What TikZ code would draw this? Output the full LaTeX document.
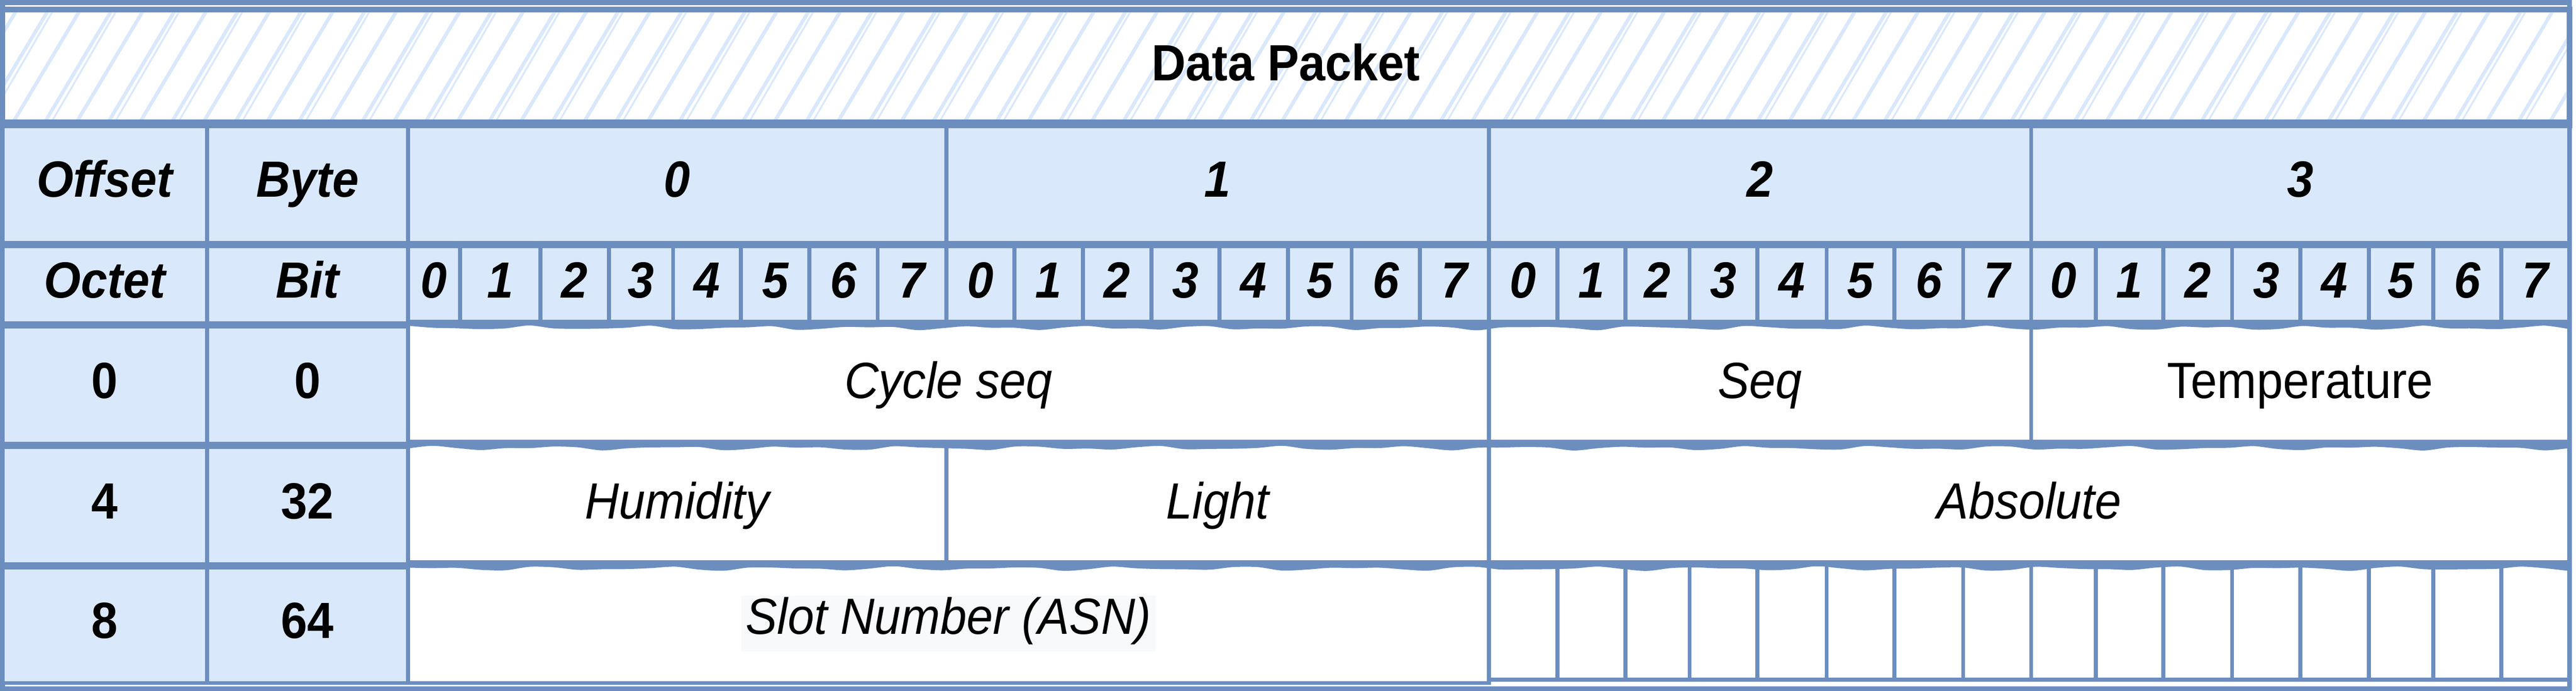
\documentclass[tikz,border=0pt]{standalone}
\usepackage{fontspec}
\setmainfont{Liberation Sans}[FakeStretch=0.93]
\definecolor{pkstroke}{HTML}{6C8EBF}
\definecolor{pkfill}{HTML}{DAE8FC}
\definecolor{pkhl}{HTML}{F8F9FA}
\newcommand\pkcell[7]{%
  \pgfmathsetmacro\pkcx{(#2+#4)/2}%
  \pgfmathsetmacro\pkcy{(#3+#5)/2}%
  \pgfmathsetmacro\pkcw{(#4-#2)/2}%
  \pgfmathsetmacro\pkch{(#5-#3)/2}%
  \node[#6, minimum width=\pkcw pt, minimum height=\pkch pt] (#1) at (\pkcx,\pkcy) {#7};}
\tikzset{
  pkbase/.style={rectangle, draw=pkstroke, line width=1.2pt, inner sep=0pt,
    text height=11pt, text depth=2.2pt, font=\fontsize{15.5}{18}\selectfont},
  pkhdr/.style={pkbase, fill=pkfill, font=\fontsize{15.5}{18}\selectfont\bfseries\itshape},
  pklab/.style={pkbase, fill=pkfill, font=\fontsize{15.5}{18}\selectfont\bfseries},
  pkdat/.style={pkbase, fill=white, font=\fontsize{15.5}{18}\selectfont\itshape},
  pkdatup/.style={pkbase, fill=white},
  pkempty/.style={pkbase, fill=white},
  pktitle/.style={pkbase, line width=1.7pt, font=\fontsize{15.5}{18}\selectfont\bfseries},
  pkhltext/.style={fill=pkhl, inner xsep=1.3pt, inner ysep=0pt, text height=11.6pt, text depth=5.4pt,
    font=\fontsize{15.5}{18}\selectfont\itshape},
  pkhatch/.style={draw=pkfill, line width=1.1pt},
  pkhatchthin/.style={draw=pkfill, line width=0.55pt},
  pkband/.style={draw=pkstroke, line width=1.9pt},
  pkline/.style={draw=pkstroke, line width=1.6pt},
  pkwave/.style={draw=pkstroke, line width=1.5pt, line join=round},
  pkframe/.style={draw=pkstroke, line width=1.5pt}
}
\begin{document}
\begin{tikzpicture}[x=0.5pt, y=-0.5pt]
\useasboundingbox (0,0) rectangle (1568,420.75);
\fill[white] (0,0) rectangle (1568,420.75);
% outer frame
\draw[pkframe] (1.5,1.5) rectangle (1564,419.4);
% title hatch
\begin{scope}
  \clip (1.5,5.9) rectangle (1564,74.6);
  \foreach \hx in {-50,-30.7,...,1600} {
    \draw[pkhatch] (\hx,74.6) -- ++(41,-68.7);
  }
  \foreach \hx in {-46,-7.4,...,1600} {
    \draw[pkhatchthin] (\hx,74.6) -- ++(40,-68.7);
  }
\end{scope}
\pkcell{title}{1.5}{5.9}{1564}{74.6}{pktitle}{Data Packet}
% header row
\pkcell{offset}{1.5}{74.6}{126}{148}{pkhdr}{Offset}
\pkcell{byte}{126}{74.6}{248.3}{148}{pkhdr}{Byte}
\pkcell{byte0}{248.3}{74.6}{576}{148}{pkhdr}{0}
\pkcell{byte1}{576}{74.6}{906.3}{148}{pkhdr}{1}
\pkcell{byte2}{906.3}{74.6}{1236.3}{148}{pkhdr}{2}
\pkcell{byte3}{1236.3}{74.6}{1564}{148}{pkhdr}{3}
% bit row
\pkcell{octet}{1.5}{148}{126}{197}{pkhdr}{Octet}
\pkcell{bit}{126}{148}{248.3}{197}{pkhdr}{Bit}
\foreach \xa/\xb/\bt [count=\i] in {
  248.3/280/0, 280/329/1, 329/370.6/2, 370.6/409.7/3, 409.7/451/4, 451/492.7/5, 492.7/534.2/6, 534.2/576/7,
  576/617.4/0, 617.4/659.2/1, 659.2/700.8/2, 700.8/742.2/3, 742.2/784/4, 784/822.7/5, 822.7/864.2/6, 864.2/906.3/7,
  906.3/947.9/0, 947.9/989.3/1, 989.3/1028.4/2, 1028.4/1069.7/3, 1069.7/1111.8/4, 1111.8/1153/5, 1153/1195/6, 1195/1236.3/7,
  1236.3/1275.7/0, 1275.7/1316.8/1, 1316.8/1358.6/2, 1358.6/1400.2/3, 1400.2/1441.9/4, 1441.9/1481.1/5, 1481.1/1522.5/6, 1522.5/1564/7} {
  \pkcell{bitcell\i}{\xa}{148}{\xb}{197}{pkhdr}{\bt}
}
% row labels
\pkcell{oct0}{1.5}{197}{126}{270.3}{pklab}{0}
\pkcell{bit0}{126}{197}{248.3}{270.3}{pklab}{0}
\pkcell{oct4}{1.5}{270.3}{126}{343.7}{pklab}{4}
\pkcell{bit32}{126}{270.3}{248.3}{343.7}{pklab}{32}
\pkcell{oct8}{1.5}{343.7}{126}{416}{pklab}{8}
\pkcell{bit64}{126}{343.7}{248.3}{416}{pklab}{64}
% data fields
\pkcell{cycleseq}{248.3}{197}{906.3}{270.3}{pkdat}{Cycle seq}
\pkcell{seq}{906.3}{197}{1236.3}{270.3}{pkdat}{Seq}
\pkcell{temperature}{1236.3}{197}{1564}{270.3}{pkdatup}{Temperature}
\pkcell{humidity}{248.3}{270.3}{576}{343.7}{pkdat}{Humidity}
\pkcell{light}{576}{270.3}{906.3}{343.7}{pkdat}{Light}
\pkcell{absolute}{906.3}{270.3}{1564}{343.7}{pkdat}{Absolute}
\pkcell{asn}{248.3}{343.7}{906.3}{416}{pkdat}{}
\node[pkhltext] (asntext) at (asn.center) {Slot Number (ASN)};
\foreach \xa/\xb [count=\i] in {
  906.3/947.9, 947.9/989.3, 989.3/1028.4, 1028.4/1069.7, 1069.7/1111.8, 1111.8/1153, 1153/1195, 1195/1236.3,
  1236.3/1275.7, 1275.7/1316.8, 1316.8/1358.6, 1358.6/1400.2, 1400.2/1441.9, 1441.9/1481.1, 1481.1/1522.5, 1522.5/1564} {
  \pkcell{pad\i}{\xa}{343.7}{\xb}{414}{pkempty}{}
}
% thick row borders
\draw[pkband] (title.south west) -- (title.south east);
\draw[pkband] (offset.south west) -- (byte3.south east);
\draw[pkband] (octet.south west) -- (bit.south east);
\draw[pkband] (oct0.south west) -- (bit0.south east);
\draw[pkband] (oct4.south west) -- (bit32.south east);
\draw[pkline] (248.3,196.2) -- (1564,196.2);
\draw[pkwave] plot[smooth, samples=90, domain=248.3:1564] (\x,{198.2+0.9*sin(\x*5.3)+0.6*sin(\x*9.7+30)});
\draw[pkline] (248.3,269.5) -- (1564,269.5);
\draw[pkwave] plot[smooth, samples=90, domain=248.3:1564] (\x,{271.4+0.9*sin(\x*4.9+70)+0.6*sin(\x*9.1)});
\draw[pkline] (248.3,342.9) -- (1564,342.9);
\draw[pkwave] plot[smooth, samples=90, domain=248.3:1564] (\x,{344.8+0.9*sin(\x*5.1+20)+0.6*sin(\x*8.3+80)});
\end{tikzpicture}
\end{document}
